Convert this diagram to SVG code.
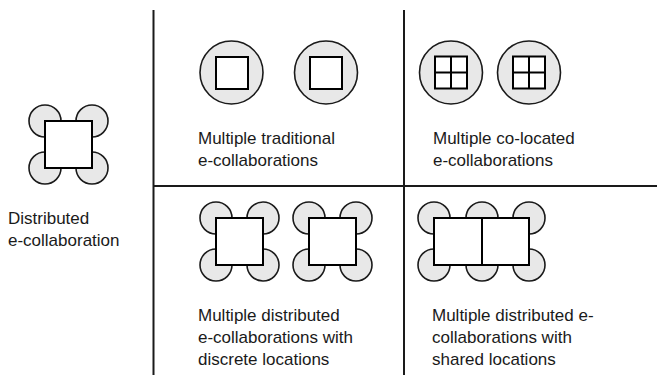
<svg xmlns="http://www.w3.org/2000/svg" width="657" height="375" viewBox="0 0 657 375">
<style>
.bg{fill:#ffffff}
.c{fill:#e8e8e8;stroke:#1a1a1a;stroke-width:1.6}
.s{fill:#ffffff;stroke:#000000;stroke-width:2}
.ln{stroke:#1a1a1a;stroke-width:2;fill:none}
text{font-family:"Liberation Sans",Arial,sans-serif;font-size:17px;fill:#1a1a1a}
</style>
<rect class="bg" x="0" y="0" width="657" height="375"/>
<g id="connectors">
<line class="ln" x1="153.5" y1="10" x2="153.5" y2="375"/>
<line class="ln" x1="404" y1="10" x2="404" y2="375"/>
<line class="ln" x1="153.5" y1="186" x2="657" y2="186"/>
</g>
<g id="distributed">
<circle class="c" cx="45" cy="121" r="16"/>
<circle class="c" cx="92" cy="121" r="16"/>
<circle class="c" cx="45" cy="168" r="16"/>
<circle class="c" cx="92" cy="168" r="16"/>
<rect class="s" x="45" y="121" width="47" height="47"/>
<text x="8" y="224">Distributed</text>
<text x="8" y="246">e-collaboration</text>
</g>
<g id="traditional">
<circle class="c" cx="231.5" cy="72.5" r="31.5"/>
<circle class="c" cx="326" cy="72.5" r="31.5"/>
<rect class="s" x="216" y="57" width="32" height="32"/>
<rect class="s" x="310" y="57" width="32" height="32"/>
<text x="198" y="144">Multiple traditional</text>
<text x="198" y="166">e-collaborations</text>
</g>
<g id="colocated">
<circle class="c" cx="451" cy="72.5" r="31.5"/>
<circle class="c" cx="529" cy="72.5" r="31.5"/>
<rect class="s" x="435" y="56.5" width="32" height="32"/>
<line class="s" x1="451" y1="56.5" x2="451" y2="88.5"/>
<line class="s" x1="435" y1="72.5" x2="467" y2="72.5"/>
<rect class="s" x="513" y="56.5" width="32" height="32"/>
<line class="s" x1="529" y1="56.5" x2="529" y2="88.5"/>
<line class="s" x1="513" y1="72.5" x2="545" y2="72.5"/>
<text x="433" y="144">Multiple co-located</text>
<text x="433" y="166">e-collaborations</text>
</g>
<g id="discrete">
<circle class="c" cx="216" cy="218" r="16"/>
<circle class="c" cx="263" cy="218" r="16"/>
<circle class="c" cx="216" cy="265" r="16"/>
<circle class="c" cx="263" cy="265" r="16"/>
<rect class="s" x="216" y="218" width="47" height="47"/>
<circle class="c" cx="309" cy="218" r="16"/>
<circle class="c" cx="356" cy="218" r="16"/>
<circle class="c" cx="309" cy="265" r="16"/>
<circle class="c" cx="356" cy="265" r="16"/>
<rect class="s" x="309" y="218" width="47" height="47"/>
<text x="198" y="321">Multiple distributed</text>
<text x="198" y="343">e-collaborations with</text>
<text x="198" y="365">discrete locations</text>
</g>
<g id="shared">
<circle class="c" cx="434" cy="218" r="16"/>
<circle class="c" cx="482" cy="218" r="16"/>
<circle class="c" cx="529" cy="218" r="16"/>
<circle class="c" cx="434" cy="265" r="16"/>
<circle class="c" cx="482" cy="265" r="16"/>
<circle class="c" cx="529" cy="265" r="16"/>
<rect class="s" x="434" y="218" width="95" height="47"/>
<line class="s" x1="482" y1="218" x2="482" y2="265"/>
<text x="432" y="321">Multiple distributed e-</text>
<text x="432" y="343">collaborations with</text>
<text x="432" y="365">shared locations</text>
</g>
</svg>
